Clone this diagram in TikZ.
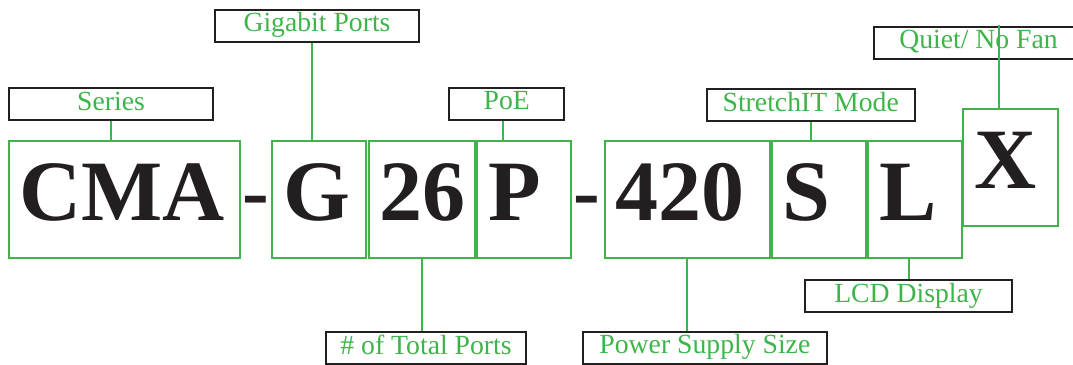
\documentclass[tikz,border=0pt]{standalone}
\usepackage{fontspec}
\setmainfont{Liberation Serif}
\usetikzlibrary{positioning}
\definecolor{codegreen}{RGB}{61,181,74}
\definecolor{inkblack}{RGB}{35,31,32}
\tikzset{
  codebox/.style={draw=codegreen, line width=2pt, inner xsep=11pt, inner ysep=0pt,
    minimum height=117pt, text height=57.7pt, text depth=16pt, text width=#1,
    align=left, text=inkblack, font=\fontsize{86}{86}\selectfont\bfseries},
  dashmark/.style={anchor=base, inner sep=0pt, text=inkblack,
    font=\fontsize{80}{80}\selectfont\bfseries},
  tagbox/.style={draw=inkblack, line width=2pt, inner sep=0pt, minimum width=#1,
    minimum height=32pt, text height=18pt, text depth=6pt, text=codegreen,
    font=\fontsize{27.7}{27.7}\selectfont},
  link/.style={draw=codegreen, line width=2pt}
}
\begin{document}
\begin{tikzpicture}[x=1pt,y=-1pt]
  \useasboundingbox (0,0) rectangle (1073,364);
  % part number
  \node[codebox=209.8pt] (cma) at (124.5,199.2) {CMA};
  \node[dashmark] (dashA) at (256,218) {-};
  \node[codebox=71.7pt] (g) at (318.9,199.2) {G};
  \node[codebox=84pt] (ports) at (421.5,199.2) {26};
  \node[codebox=71.9pt] (p) at (524,199.2) {P};
  \node[dashmark] (dashB) at (587,218) {-};
  \node[codebox=143.4pt] (power) at (687.3,199.2) {420};
  \node[codebox=72pt] (s) at (818.6,199.2) {S};
  \node[codebox=71.7pt] (l) at (914.9,199.2) {L};
  \node[codebox=72.1pt] (fan) at (1010.5,167.5) {X};
  % labels
  \node[tagbox=204.9pt] (tseries) at (111,104.2) {Series};
  \node[tagbox=204.9pt] (tgig) at (317,25.7) {Gigabit Ports};
  \node[tagbox=114.6pt] (tpoe) at (506.7,103.9) {PoE};
  \node[tagbox=207.6pt] (tstretch) at (810.7,105.4) {StretchIT Mode};
  \node[tagbox=209pt] (tquiet) at (978.5,42.9) {Quiet/ No Fan};
  \node[tagbox=207.6pt] (tlcd) at (908.5,296.2) {LCD Display};
  \node[tagbox=200.4pt] (ttotal) at (426,348.2) {\# of Total Ports};
  \node[tagbox=243.7pt] (tpower) at (704.9,347.5) {Power Supply Size};
  % connectors
  \coordinate (tapG) at (311.6,0);
  \coordinate (tapP) at (503.4,0);
  \coordinate (tapX) at (999,25);
  \draw[link] (tseries.south) -- (tseries.south |- cma.north);
  \draw[link] (tgig.south -| tapG) -- (g.north -| tapG);
  \draw[link] (tpoe.south -| tapP) -- (p.north -| tapP);
  \draw[link] (tstretch.south) -- (tstretch.south |- s.north);
  \draw[link] (tapX) -- (tapX |- fan.north);
  \draw[link] (ports.south) -- (ports.south |- ttotal.north);
  \draw[link] (power.south) -- (power.south |- tpower.north);
  \draw[link] (tlcd.north) -- (tlcd.north |- l.south);
\end{tikzpicture}
\end{document}
